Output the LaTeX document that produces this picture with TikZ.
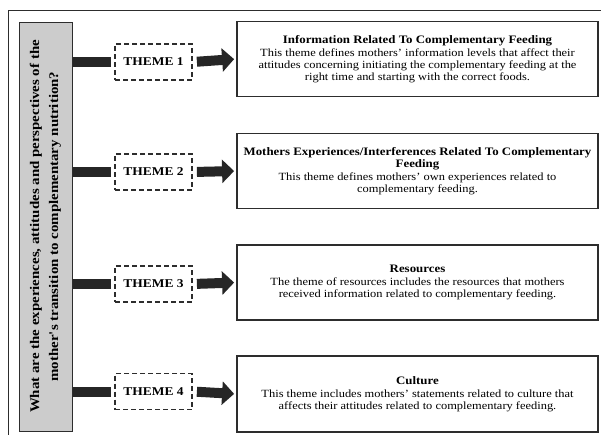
\documentclass[tikz,border=0pt]{standalone}
\usepackage{fontspec}
\setmainfont{Liberation Serif}[Ligatures=TeXOff,FakeStretch=1.13]
\usetikzlibrary{arrows.meta}
\definecolor{boxgray}{RGB}{204,204,204}
\definecolor{inkgray}{RGB}{45,45,45}
\newcommand{\topichead}[1]{{\bfseries\fontsize{11.4}{12.5}\selectfont #1}}

\begin{document}
\begin{tikzpicture}[x=1pt,y=-1pt,
        question/.style={draw=inkgray,fill=boxgray,line width=1pt,rotate=90,
            minimum width=409pt,minimum height=53pt,inner sep=0pt,align=center,
            font=\bfseries\fontsize{13.2}{19}\selectfont},
        theme/.style={draw=inkgray,line width=1.8pt,dash pattern=on 5pt off 3pt,
            minimum width=77pt,minimum height=36pt,font=\bfseries\fontsize{11.9}{14}\selectfont},
        topic/.style={draw=inkgray,line width=1.8pt,minimum width=361pt,minimum height=75pt,
            align=center,font=\fontsize{11}{11.7}\selectfont},
        bar/.style={draw=black!85,line width=10pt,shorten >=3pt},
        link/.style={draw=black!85,line width=10pt,shorten <=4pt,shorten >=2pt,
            -{Triangle[length=12pt,width=23pt]}}]
        \useasboundingbox (0,0) rectangle (601,434);
        \draw[inkgray,line width=0.8pt] (8,440) -- (8,10.5) -- (610,10.5);

        \node[question] (q) at (45.5,226.5) {What are the experiences, attitudes and perspectives of the\\mother's transition to complementary nutrition?};

        \node[theme] (t1) at (153.5,62) {THEME 1};
        \node[theme] (t2) at (153.5,172) {THEME 2};
        \node[theme] (t3) at (153.5,284) {THEME 3};
        \node[theme] (t4) at (153.5,391.5) {THEME 4};

        \node[topic] (info) at (417.5,59) {\topichead{Information Related To Complementary Feeding}\\[1.5pt]This theme defines mothers’ information levels that affect their\\attitudes concerning initiating the complementary feeding at the\\right time and starting with the correct foods.};
        \node[topic] (exp) at (417.5,171) {\topichead{Mothers Experiences/Interferences Related To Complementary}\\\topichead{Feeding}\\[1.5pt]This theme defines mothers’ own experiences related to\\complementary feeding.};
        \node[topic] (res) at (417.5,282.5) {\topichead{Resources}\\[1.5pt]The theme of resources includes the resources that mothers\\received information related to complementary feeding.};
        \node[topic,minimum height=76pt] (cul) at (417.5,394) {\topichead{Culture}\\[1.5pt]This theme includes mothers’ statements related to culture that\\affects their attitudes related to complementary feeding.};

        \draw[bar] (q.south |- t1) -- (t1.west);
        \draw[bar] (q.south |- t2) -- (t2.west);
        \draw[bar] (q.south |- t3) -- (t3.west);
        \draw[bar] (q.south |- t4) -- (t4.west);

        \draw[link] (t1.east) -- (info.west);
        \draw[link] (t2.east) -- (exp.west);
        \draw[link] (t3.east) -- (res.west);
        \draw[link] (t4.east) -- (cul.west);
\end{tikzpicture}
\end{document}
